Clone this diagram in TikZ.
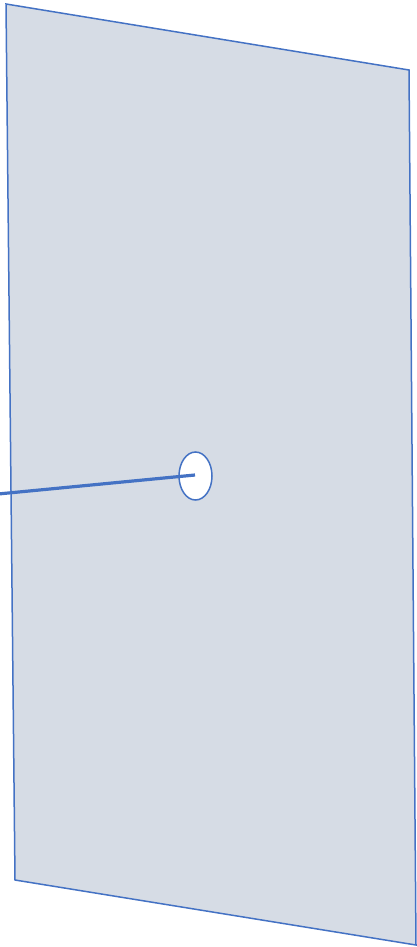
\documentclass[tikz,border=0pt]{standalone}
\usetikzlibrary{shapes.geometric}
\begin{document}
\begin{tikzpicture}[x=1pt,y=-1pt,
  plane/.style={draw=blue1, fill=planefill, line width=1.5pt, line join=miter},
  hole/.style={draw=blue1, fill=white, line width=1.5pt, ellipse, minimum width=33pt, minimum height=48pt, inner sep=0pt},
  ray/.style={draw=blue1, line width=3.2pt}]
\definecolor{blue1}{HTML}{4472C4}
\definecolor{planefill}{HTML}{D6DCE5}
\useasboundingbox (0,0) rectangle (416,947);
\coordinate (p1) at (6,4);
\coordinate (p2) at (409,70);
\coordinate (p3) at (416,945);
\coordinate (p4) at (15,880);
\draw[plane] (p1) -- (p2) -- (p3) -- (p4) -- cycle;
\node[hole] (h) at (195.5,476) {};
\coordinate (s) at (-2,494);
\coordinate (e) at (195,475);
\draw[ray] (s) -- (e);
\end{tikzpicture}
\end{document}
